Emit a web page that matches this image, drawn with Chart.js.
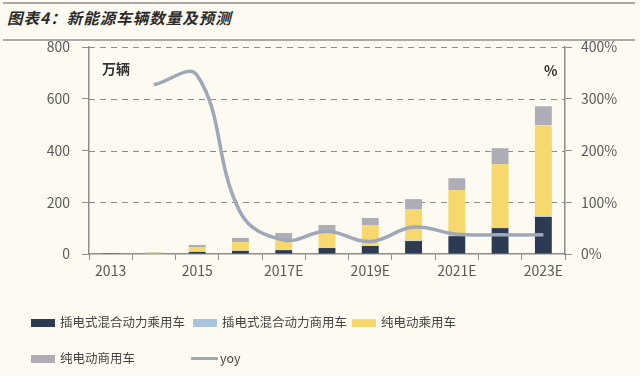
<!DOCTYPE html>
<html lang="zh">
<head>
    <meta charset="utf-8" />
    <title>新能源车辆数量及预测</title>
    <script src="https://cdn.jsdelivr.net/npm/chart.js@4.4.0/dist/chart.umd.min.js"></script>
    <style>
        html, body { margin: 0; padding: 0; }
        body { width: 640px; height: 376px; background: #fdfbf1; position: relative; overflow: hidden;
               font-family: "Noto Sans CJK SC", sans-serif; }
        .rule { position: absolute; left: 3px; width: 632px; height: 2px; background: #a9a9a9; }
        #title { position: absolute; left: 7px; top: 6px; font-size: 15.5px; font-weight: bold; font-style: italic;
                 color: #2a2a2a; letter-spacing: 1px; }
        #chartbox { position: absolute; left: 0; top: 0; width: 640px; height: 376px; }
        .unit { position: absolute; font-size: 14px; font-weight: bold; color: #333; }
        .leg { position: absolute; font-size: 12.5px; color: #444; line-height: 16px; white-space: nowrap; }
        .leg i { display: inline-block; vertical-align: middle; margin-right: 5px; margin-top: -2px; }
    </style>
</head>
<body>
    <div class="rule" style="top:2px"></div>
    <div id="title">图表4：新能源车辆数量及预测</div>
    <div class="rule" style="top:39px"></div>
    <div id="chartbox"><canvas id="chart" width="640" height="376"></canvas></div>
    <div class="unit" style="left:102px; top:58px">万辆</div>
    <div class="unit" style="left:544px; top:60px">%</div>
    <div id="legend"></div>
    <script>
        // 单位：万辆
        const years = ['2013', '2015', '2017E', '2019E', '2021E', '2023E'];
        const categories = ['2013', '2014', '2015', '2016', '2017E', '2018E', '2019E', '2020E', '2021E', '2022E', '2023E'];
        const phevPassenger = [0.5, 2, 8, 12, 15, 23, 31, 50, 69, 100, 143];
        const phevCommercial = [0, 0, 0.5, 1, 1, 1, 1.5, 2, 2, 3, 3];
        const bevPassenger = [0.5, 3, 18.5, 33, 42, 61, 79.5, 122, 176, 244, 352];
        const bevCommercial = [0.5, 2, 8, 16, 23, 27, 27, 38, 46, 62, 73];
        const yoy = [null, 327, 345, 80, 27, 44, 24, 52, 38, 37, 37];
        const leftTicks = [0, 200, 400, 600, 800];
        const rightTicks = [0, 100, 200, 300, 400];

        const names = ['插电式混合动力乘用车', '插电式混合动力商用车', '纯电动乘用车', '纯电动商用车', 'yoy'];
        const colors = ['#2c3a52', '#a8c5de', '#f6d86c', '#aeadb6', '#9ea8b8'];

        const tickFont = { family: 'Noto Sans CJK SC', size: 14 };
        const tickColor = '#595959';

        function bar(i, values) {
            return {
                type: 'bar', label: names[i], data: values, backgroundColor: colors[i],
                stack: 's', yAxisID: 'y', order: 1, barPercentage: 0.39, categoryPercentage: 1
            };
        }

        // dashed horizontal grid lines, placed with the left scale
        const dashedGrid = {
            id: 'dashedGrid',
            beforeDatasetsDraw(chart) {
                const { ctx, chartArea, scales } = chart;
                ctx.save();
                ctx.strokeStyle = '#8c8c8c';
                ctx.lineWidth = 1;
                ctx.setLineDash([6, 5]);
                leftTicks.slice(1).forEach(v => {
                    const y = Math.round(scales.y.getPixelForValue(v)) + 0.5;
                    ctx.beginPath();
                    ctx.moveTo(chartArea.left, y);
                    ctx.lineTo(chartArea.right, y);
                    ctx.stroke();
                });
                ctx.restore();
            }
        };

        const ctx = document.getElementById('chart').getContext('2d');
        const chart = new Chart(ctx, {
            data: {
                labels: categories,
                datasets: [
                    bar(0, phevPassenger),
                    bar(1, phevCommercial),
                    bar(2, bevPassenger),
                    bar(3, bevCommercial),
                    {
                        type: 'line', label: names[4], data: yoy, yAxisID: 'y1', order: 0,
                        borderColor: colors[4], borderWidth: 3.5, pointRadius: 0, tension: 0.4,
                        fill: false
                    }
                ]
            },
            plugins: [dashedGrid],
            options: {
                responsive: false,
                animation: false,
                layout: { padding: { top: 47, left: 0, right: 0, bottom: 0 } },
                plugins: { legend: { display: false }, tooltip: { enabled: false } },
                scales: {
                    x: {
                        stacked: true,
                        offset: true,
                        grid: { offset: true, drawOnChartArea: false, color: '#8c8c8c', tickLength: 6 },
                        border: { color: '#8c8c8c', width: 1.5 },
                        ticks: {
                            autoSkip: false, maxRotation: 0, padding: 2, font: tickFont, color: tickColor,
                            callback: (v, i) => years.includes(categories[i]) ? categories[i] : ''
                        },
                        afterFit: s => { s.height = 122; }
                    },
                    y: {
                        stacked: true, position: 'left', min: 0, max: 800,
                        afterBuildTicks: s => { s.ticks = leftTicks.map(v => ({ value: v })); },
                        grid: { drawOnChartArea: false, color: '#8c8c8c', tickLength: 7 },
                        border: { color: '#8c8c8c', width: 1.5 },
                        ticks: { padding: 12, font: tickFont, color: tickColor },
                        afterFit: s => { s.width = 89; }
                    },
                    y1: {
                        position: 'right', min: 0, max: 400,
                        afterBuildTicks: s => { s.ticks = rightTicks.map(v => ({ value: v })); },
                        grid: { drawOnChartArea: false, color: '#8c8c8c', tickLength: 7 },
                        border: { color: '#8c8c8c', width: 1.5 },
                        ticks: { padding: 9, font: tickFont, color: tickColor, callback: v => v + '%' },
                        afterFit: s => { s.width = 75; }
                    }
                }
            }
        });

        // legend laid out like the original (3 columns grid)
        const slots = [[31, 314], [193, 314], [352, 314], [31, 350], [191, 350]];
        const legend = document.getElementById('legend');
        chart.data.datasets.forEach((ds, i) => {
            const el = document.createElement('div');
            el.className = 'leg';
            el.style.left = slots[i][0] + 'px';
            el.style.top = slots[i][1] + 'px';
            const sw = ds.type === 'line'
                ? `<i style="width:27px;height:3px;background:${ds.borderColor};margin-right:2px"></i>`
                : `<i style="width:24px;height:8px;background:${ds.backgroundColor}"></i>`;
            el.innerHTML = sw + ds.label;
            legend.appendChild(el);
        });
    </script>
</body>
</html>
